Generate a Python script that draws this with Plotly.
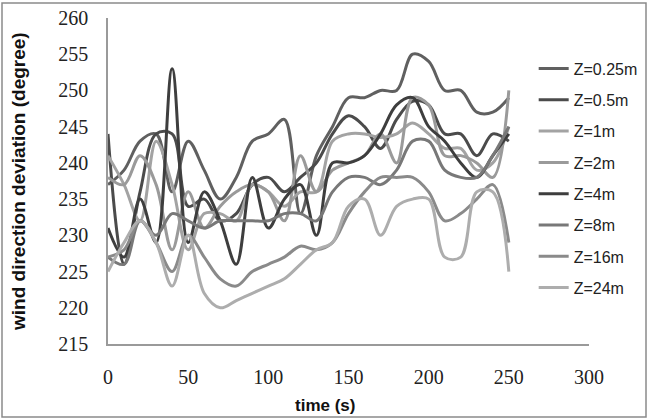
import plotly.graph_objects as go

time_s = [0, 10, 20, 30, 40, 50, 60, 70, 80, 90, 100, 110, 120, 130, 140, 150,
          160, 170, 180, 190, 200, 210, 220, 230, 240, 250]

z_025 = [237, 239, 243, 244, 236, 243, 239, 235, 238, 243, 244, 246, 233, 241, 245, 249,
         249, 250, 250, 255, 254, 250, 250, 247, 247, 249]
z_05 = [244, 226, 236, 244, 244, 234, 235, 232, 233, 237, 238, 236, 238, 240, 244, 246.5,
        245, 242, 246, 248.5, 248, 244, 244, 241, 244, 243]
z_1 = [241, 237, 232, 243, 237, 228, 233, 233, 232, 237, 236, 234, 236, 236, 243, 244,
       244, 243.5, 244, 245.5, 244, 242, 242, 239, 240, 245]
z_2 = [238, 237, 241, 237, 228, 236, 231, 234, 236, 237, 236, 232, 241, 236, 239, 240,
       241, 244, 240, 249, 248, 241, 241, 240, 238, 250]
z_4 = [231, 227, 235, 229, 253, 229, 236, 232, 226, 238, 231, 235, 237, 230, 240, 240,
       241, 244, 248, 249, 245, 243, 240, 238, 241, 244]
z_8 = [227, 226, 232, 230, 233, 232, 231, 232, 232, 232, 232, 233, 233, 232, 236, 238,
       238, 237, 239, 243, 243, 239, 238, 238, 241, 245]
z_16 = [227, 228, 232, 229, 225, 230, 227, 224, 223, 225, 226, 227, 228.5, 228, 229, 233,
        236, 238, 238, 238, 236, 232, 233, 235, 237, 229]
z_24 = [225, 229, 232, 229, 223, 230, 222, 220, 221, 222, 223, 224, 226, 228, 229, 234,
        235, 230, 234, 235, 235, 227, 227, 236, 236, 225]

series_names = ["Z=0.25m", "Z=0.5m", "Z=1m", "Z=2m", "Z=4m", "Z=8m", "Z=16m", "Z=24m"]
series_values = [z_025, z_05, z_1, z_2, z_4, z_8, z_16, z_24]
series_colors = ["#606060", "#4b4b4b", "#a3a3a3", "#9a9a9a", "#3e3e3e", "#787878", "#8a8a8a", "#adadad"]

y_ticks = [215, 220, 225, 230, 235, 240, 245, 250, 255, 260]
x_ticks = [0, 50, 100, 150, 200, 250, 300]

fig = go.Figure()
for name, vals, col in zip(series_names, series_values, series_colors):
    fig.add_trace(go.Scatter(
        x=time_s, y=vals, name=name, mode="lines",
        line=dict(color=col, width=3, shape="spline", smoothing=1.0),
        legendgroup=name,
    ))

axis_col = "#9a9a9a"
fig.update_layout(
    width=652, height=420,
    margin=dict(l=108, r=63, t=18, b=76, autoexpand=False),
    paper_bgcolor="white", plot_bgcolor="white",
    showlegend=True,
    legend=dict(x=0.885, xanchor="left", y=0.897, yanchor="top",
                font=dict(family="Liberation Sans", size=16, color="#222"),
                tracegroupgap=7.5, bgcolor="rgba(0,0,0,0)", itemwidth=30),
    xaxis=dict(range=[0, 300], tickvals=x_ticks, showgrid=False, zeroline=False,
               showline=True, linecolor=axis_col, linewidth=1.5, automargin=False,
               ticks="", ticklabelstandoff=14,
               tickfont=dict(family="Liberation Serif", size=20, color="#222")),
    yaxis=dict(range=[215, 260], tickvals=y_ticks, showgrid=False, zeroline=False,
               showline=True, linecolor=axis_col, linewidth=1.5, automargin=False,
               ticks="", ticklabelstandoff=14,
               tickfont=dict(family="Liberation Serif", size=20, color="#222")),
    annotations=[
        dict(text="<b>time (s)</b>", xref="paper", yref="paper",
             x=(325 - 108) / 481, y=(344 - 405) / 326, showarrow=False,
             xanchor="center", yanchor="middle",
             font=dict(family="Liberation Sans", size=17, color="#111")),
        dict(text="<b>wind direction deviation (degree)</b>", xref="paper", yref="paper",
             x=(18 - 108) / 481, y=(344 - 182) / 326, showarrow=False, textangle=-90,
             xanchor="center", yanchor="middle",
             font=dict(family="Liberation Sans", size=19, color="#111")),
    ],
    shapes=[
        dict(type="rect", xref="paper", yref="paper",
             x0=(2 - 108) / 481, x1=(646 - 108) / 481,
             y0=(344 - 417) / 326, y1=(344 - 3) / 326,
             line=dict(color="#8a8a8a", width=1.5), fillcolor="rgba(0,0,0,0)", layer="below"),
    ],
)

fig.write_html("out.html")
